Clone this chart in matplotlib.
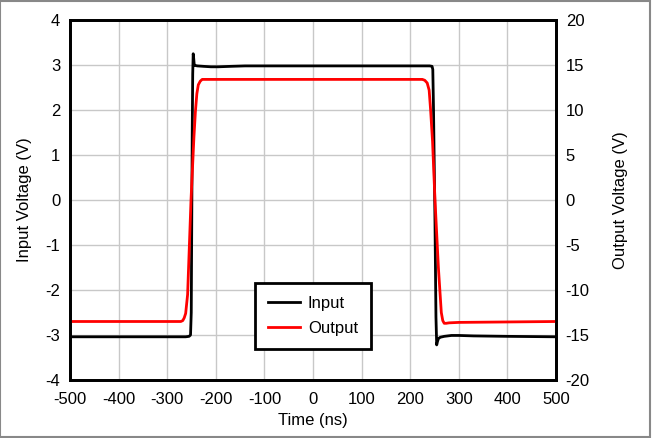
import matplotlib
matplotlib.use("Agg")
import matplotlib.pyplot as plt
from matplotlib.patches import Rectangle

plt.rcParams['font.family'] = ['Liberation Sans', 'DejaVu Sans']

# Input waveform (left axis, V) vs time (ns)
t_in = [-500, -300, -262, -255, -252, -250.5, -249.5, -248.5, -247.5, -246.5, -245.5, -244.5,
        -243, -238, -225, -210, -195, -170, -140, -100, 0, 100, 200, 240, 245, 246.5,
        248, 251, 253, 254.5, 256, 258, 262, 270, 285, 300, 330, 400, 500]
v_in = [-3.04, -3.04, -3.04, -3.03, -3.0, -2.5, -0.5, 1.5, 2.8, 3.25, 3.15, 3.02,
        2.99, 2.98, 2.97, 2.96, 2.96, 2.97, 2.98, 2.98, 2.98, 2.98, 2.98, 2.98, 2.97, 2.9,
        2.0, -0.5, -2.6, -3.22, -3.15, -3.08, -3.05, -3.03, -3.01, -3.01, -3.02, -3.03, -3.04]

# Output waveform (right axis, V) vs time (ns)
t_out = [-500, -300, -272, -268, -265, -262, -258, -251, -245, -242, -239, -236, -232, -228,
         -220, -200, 0, 200, 225, 230, 235, 239, 242, 246, 251, 258, 264, 267, 270, 274,
         280, 300, 400, 500]
v_out = [-13.5, -13.5, -13.5, -13.4, -13.1, -12.6, -10.5, 0.0, 7.0, 9.8, 11.8, 12.8, 13.2, 13.4,
         13.4, 13.4, 13.4, 13.4, 13.4, 13.3, 13.0, 12.2, 10.0, 6.5, 0.0, -7.5, -12.5, -13.4, -13.7, -13.7,
         -13.65, -13.6, -13.55, -13.5]

x_ticks = [-500, -400, -300, -200, -100, 0, 100, 200, 300, 400, 500]
yl_ticks = [-4, -3, -2, -1, 0, 1, 2, 3, 4]
yr_ticks = [-20, -15, -10, -5, 0, 5, 10, 15, 20]

fig = plt.figure(figsize=(6.56, 4.38), dpi=100)
ax = fig.add_axes([70/656, 1 - 380/438, (556-70)/656, (380-20)/438])
ax2 = ax.twinx()

fs = 12
ax.set_xlim(-500, 500)
ax.set_ylim(-4, 4)
ax2.set_ylim(-20, 20)
ax.set_xticks(x_ticks)
ax.set_xticklabels([str(v) for v in x_ticks], fontsize=fs)
ax.set_yticks(yl_ticks)
ax.set_yticklabels([str(v) for v in yl_ticks], fontsize=fs)
ax2.set_yticks(yr_ticks)
ax2.set_yticklabels([str(v) for v in yr_ticks], fontsize=fs)
ax.grid(True, color='#c8c8c8', lw=1)
ax.set_axisbelow(True)
ax.tick_params(axis='x', length=0, pad=9)
ax.tick_params(axis='y', length=0, pad=7)
ax2.tick_params(length=0, pad=7)

l1, = ax.plot(t_in, v_in, color='black', lw=2, label='Input')
l2, = ax2.plot(t_out, v_out, color='#ff0000', lw=2, label='Output')

for a in (ax, ax2):
    for s in a.spines.values():
        s.set_linewidth(2)
        s.set_color('black')

ax.set_xlabel('Time (ns)', fontsize=fs, labelpad=4)
ax.set_ylabel('Input Voltage (V)', fontsize=fs, labelpad=10)
ax2.set_ylabel('Output Voltage (V)', fontsize=fs, labelpad=17)

leg = ax2.legend(handles=[l1, l2], loc='center', bbox_to_anchor=(0.5, 0.178),
                 fontsize=fs, frameon=True, fancybox=False, framealpha=1,
                 edgecolor='black', borderpad=0.8, handlelength=1.9, handletextpad=0.5,
                 labelspacing=0.6, borderaxespad=0)
leg.get_frame().set_linewidth(2)

fig.patches.append(Rectangle((0, 1/438), 650/656, 436/438, transform=fig.transFigure,
                             fill=False, edgecolor='#888888', lw=1.5))

fig.savefig('out.png', dpi=100)
